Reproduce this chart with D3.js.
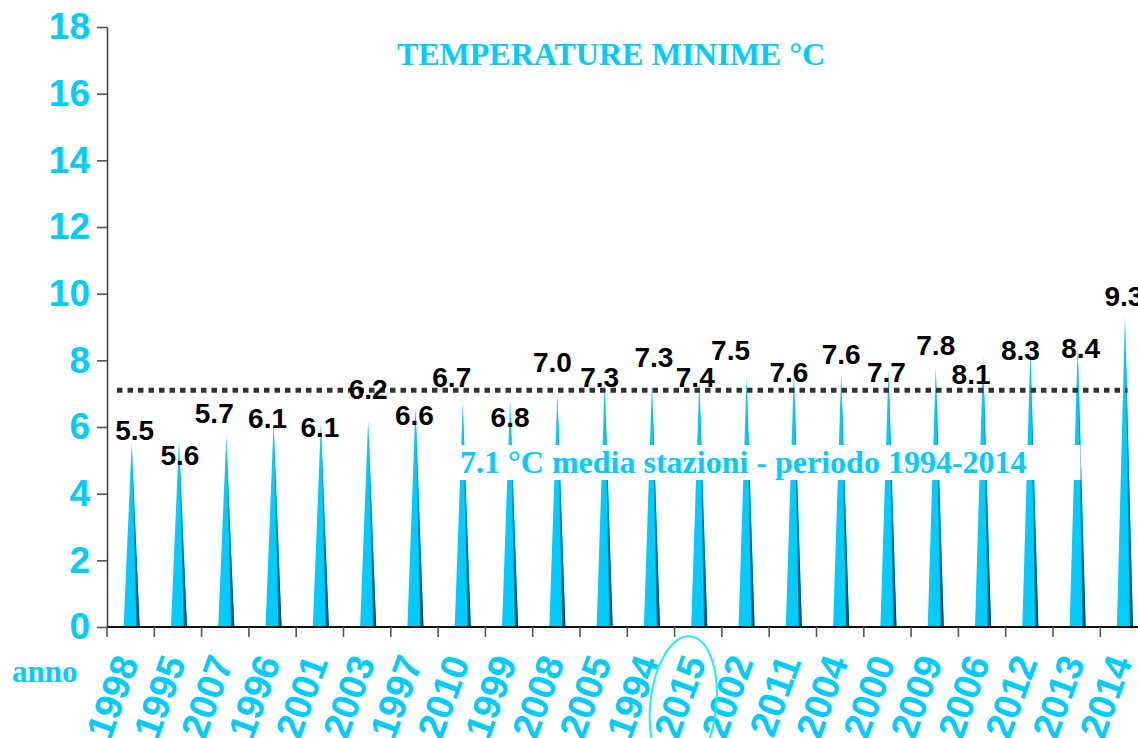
<!DOCTYPE html>
<html>
<head>
<meta charset="utf-8">
<script src="https://cdn.jsdelivr.net/npm/d3@7"></script>
<style>
  html, body { margin: 0; padding: 0; background: #ffffff; }
  svg { display: block; }
</style>
</head>
<body>
<script>
// Minimum temperatures per year, ordered from coldest to warmest
const years = ["1998","1995","2007","1996","2001","2003","1997","2010","1999","2008","2005",
               "1994","2015","2002","2011","2004","2000","2009","2006","2012","2013","2014"];
const tmin  = [5.5, 5.6, 5.7, 6.1, 6.1, 6.2, 6.6, 6.7, 6.8, 7.0, 7.3,
               7.3, 7.4, 7.5, 7.6, 7.6, 7.7, 7.8, 8.1, 8.3, 8.4, 9.3];
const yTicks = [0, 2, 4, 6, 8, 10, 12, 14, 16, 18];
const referencePeriod = [1994, 2014];
const highlightedYear = "2015";

// Hand-placed nudges for the value labels (pixels from each spike tip)
const labelDx = [3, 1, -12, -6, -1, 0, -1, -11, 0, -5, -5, 2, -4, -16, -5, 0, -2, 0, -12, -10, 3, -1];
const labelDy = [-14, 15, -24, -6, 3, -31, 8, -27, 17, -32, -7, -27, -3, -27, -2, -20, 2, -22, 17, 0, 1, -21];

const W = 1138, H = 738;
const CYAN = "#00ccff";
const SANS = "'Liberation Sans', Arial, sans-serif";
const SERIF = "'Liberation Serif', 'Times New Roman', serif";

const svg = d3.select("body").append("svg").attr("width", W).attr("height", H);

const x = d3.scaleBand().domain(years).range([107, 1147.6]).padding(0);
const y = d3.scaleLinear().domain([0, 18]).range([627, 27]);

const rows = years.map((yr, i) => ({ year: yr, value: tmin[i], i }));
const cx = d => x(d.year) + x.bandwidth() / 2 + 1;
const halfBase = x.bandwidth() * 0.17;

// Gradient for the shaded side of each cone
const defs = svg.append("defs");
const grad = defs.append("linearGradient").attr("id", "coneShade")
  .attr("x1", "0%").attr("x2", "100%").attr("y1", "0%").attr("y2", "0%");
grad.append("stop").attr("offset", "0%").attr("stop-color", "#00b4e0");
grad.append("stop").attr("offset", "100%").attr("stop-color", "#003c50");

// Cones
const cones = svg.append("g").attr("class", "cones");
cones.selectAll("path.cone").data(rows).join("path")
  .attr("class", "cone")
  .attr("d", d => `M${cx(d)},${y(d.value)} L${cx(d) + halfBase},${y(0)} L${cx(d) - halfBase},${y(0)} Z`)
  .attr("fill", CYAN);
cones.selectAll("path.shade").data(rows).join("path")
  .attr("class", "shade")
  .attr("d", d => `M${cx(d)},${y(d.value)} L${cx(d) + halfBase},${y(0)} L${cx(d) + halfBase - 3.2},${y(0)} Z`)
  .attr("fill", "url(#coneShade)");

// Mean of the reference period
const refValues = rows.filter(d => +d.year >= referencePeriod[0] && +d.year <= referencePeriod[1]).map(d => d.value);
const mean = d3.mean(refValues);

svg.append("line")
  .attr("x1", x.range()[0] + 10).attr("x2", x.range()[1] - 20)
  .attr("y1", y(mean)).attr("y2", y(mean))
  .attr("stroke", "#333333").attr("stroke-width", 5)
  .attr("stroke-dasharray", "5.5,5");

// Legend text for the mean, on a white band
const legendG = svg.append("g");
const legendBg = legendG.append("rect").attr("fill", "#ffffff");
const legendText = legendG.append("text")
  .attr("x", 460).attr("y", 473)
  .attr("font-family", SERIF).attr("font-weight", "bold").attr("font-size", 32)
  .attr("fill", CYAN)
  .text(`${d3.format(".1f")(mean)} °C media stazioni - periodo ${referencePeriod[0]}-${referencePeriod[1]}`);
const bb = legendText.node().getBBox();
legendBg.attr("x", bb.x - 10).attr("y", bb.y + 1).attr("width", bb.width + 64).attr("height", bb.height - 1);

// Value labels
svg.append("g").selectAll("text").data(rows).join("text")
  .attr("x", d => cx(d) + labelDx[d.i])
  .attr("y", d => y(d.value) + labelDy[d.i])
  .attr("dy", "0.36em")
  .attr("text-anchor", "middle")
  .attr("font-family", SANS).attr("font-weight", "bold").attr("font-size", 28)
  .attr("fill", "#000000")
  .text(d => d3.format(".1f")(d.value));

// Y axis
const yAxis = svg.append("g").attr("transform", `translate(${x.range()[0]},0)`)
  .call(d3.axisLeft(y).tickValues(yTicks).tickSize(10).tickSizeOuter(0).tickPadding(7).tickFormat(d3.format("d")));
yAxis.select(".domain").attr("stroke", "#444").attr("stroke-width", 1.6);
yAxis.selectAll(".tick line").attr("stroke", "#555").attr("stroke-width", 1.6);
yAxis.selectAll(".tick text")
  .attr("font-family", SANS).attr("font-weight", "bold").attr("font-size", 37)
  .attr("fill", CYAN);

// X axis baseline and boundary ticks
svg.append("line")
  .attr("x1", x.range()[0]).attr("x2", W)
  .attr("y1", y(0)).attr("y2", y(0))
  .attr("stroke", "#111").attr("stroke-width", 2);
const bounds = years.map(yr => x(yr)).concat([x.range()[1]]);
svg.append("g").selectAll("line").data(bounds).join("line")
  .attr("x1", d => d).attr("x2", d => d)
  .attr("y1", y(0)).attr("y2", y(0) + 10)
  .attr("stroke", "#555").attr("stroke-width", 1.6);

// Year labels
svg.append("g").selectAll("text").data(rows).join("text")
  .attr("transform", d => `translate(${cx(d) - 5},657) rotate(-70)`)
  .attr("text-anchor", "end")
  .attr("dy", "0.35em")
  .attr("font-family", SANS).attr("font-weight", "bold").attr("font-size", 38)
  .attr("fill", CYAN)
  .text(d => d.year);

// Ring around the current year
const hi = rows.find(d => d.year === highlightedYear);
svg.append("ellipse")
  .attr("transform", `translate(${cx(hi) - 16},705) rotate(6)`)
  .attr("rx", 33).attr("ry", 69)
  .attr("fill", "none").attr("stroke", "#1ef0f0").attr("stroke-width", 2);

// Axis caption
svg.append("text")
  .attr("x", 12).attr("y", 682)
  .attr("font-family", SERIF).attr("font-weight", "bold").attr("font-size", 31)
  .attr("fill", CYAN)
  .text("anno");

// Title
svg.append("text")
  .attr("x", 611).attr("y", 65)
  .attr("text-anchor", "middle")
  .attr("font-family", SERIF).attr("font-weight", "bold").attr("font-size", 32)
  .attr("fill", CYAN)
  .text("TEMPERATURE MINIME °C");
</script>
</body>
</html>
